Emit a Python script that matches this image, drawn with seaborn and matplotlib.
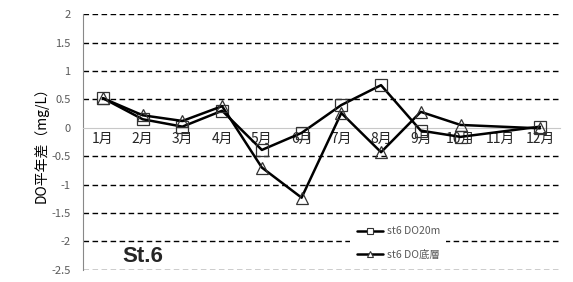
import numpy as np
import pandas as pd
import matplotlib
matplotlib.use("Agg")
import matplotlib.pyplot as plt
from matplotlib.lines import Line2D
import seaborn as sns

# 月別のDO平年差 (11月は欠測)
months = ["1月", "2月", "3月", "4月", "5月", "6月", "7月", "8月", "9月", "10月", "11月", "12月"]
do_20m = [0.52, 0.15, 0.02, 0.30, -0.39, -0.09, 0.40, 0.75, -0.05, -0.16, None, 0.02]
do_bottom = [0.52, 0.22, 0.12, 0.38, -0.70, -1.23, 0.26, -0.43, 0.28, 0.05, None, -0.01]
series_names = ["st6 DO20m", "st6 DO底層"]
y_ticks = [2, 1.5, 1, 0.5, 0, -0.5, -1, -1.5, -2, -2.5]

sns.set_style("white")
plt.rcParams["font.family"] = ["Noto Sans CJK JP", "DejaVu Sans"]

rows = []
for name, vals in zip(series_names, [do_20m, do_bottom]):
    for i, v in enumerate(vals):
        if v is not None:
            rows.append({"x": i, "val": v, "series": name})
df = pd.DataFrame(rows)

fig = plt.figure(figsize=(5.73, 2.82), dpi=100)
ax = fig.add_axes([0.145, 0.043, 0.832, 0.907])

# グリッド (破線)
for t in y_ticks:
    if t != 0:
        ax.axhline(t, color="black", lw=1.0, ls=(0, (4, 2.5)), zorder=0)

sns.lineplot(data=df, x="x", y="val", style="series", markers=["s", "^"],
             dashes=False, color="black", lw=1.8, markersize=8,
             markerfacecolor="none", markeredgecolor="#333333", markeredgewidth=0.9,
             estimator=None, ax=ax, legend=False, zorder=3)

ax.set_xlim(-0.5, 11.5)
ax.set_ylim(-2.5, 2)
ax.set_yticks(y_ticks)
ax.set_yticklabels([f"{t:g}" for t in y_ticks], color="#595959", fontsize=8)
ax.set_xticks(range(12))
ax.set_xticklabels(months, color="#595959", fontsize=8)
ax.tick_params(axis="x", length=0, pad=3)
ax.tick_params(axis="y", length=0, pad=9)

ax.spines["bottom"].set_position(("data", 0))
ax.spines["bottom"].set_color("#c8c8c8")
ax.spines["bottom"].set_linewidth(0.8)
ax.spines["left"].set_color("#888888")
ax.spines["top"].set_visible(False)
ax.spines["right"].set_visible(False)

ax.set_xlabel("")
ax.set_ylabel("DO平年差（mg/L）", fontsize=10, color="black", labelpad=2)

# 凡例
handles = [Line2D([], [], color="black", lw=1.8, marker=m, markersize=5,
                  markerfacecolor="white", markeredgecolor="#333333", markeredgewidth=0.8)
           for m in ["s", "^"]]
leg = ax.legend(handles, series_names, loc="upper left", bbox_to_anchor=(0.55, 0.215),
                frameon=True, fontsize=7.5, handlelength=2.5, labelspacing=1.3,
                borderpad=0.6, handletextpad=0.4, framealpha=1)
leg.get_frame().set_edgecolor("white")
leg.get_frame().set_linewidth(0)
for txt in leg.get_texts():
    txt.set_color("#595959")

ax.text(0.082, 0.03, "St.6", transform=ax.transAxes, fontsize=16,
        fontweight="bold", family=["Liberation Sans", "DejaVu Sans"])

fig.savefig("out.png", dpi=100)
